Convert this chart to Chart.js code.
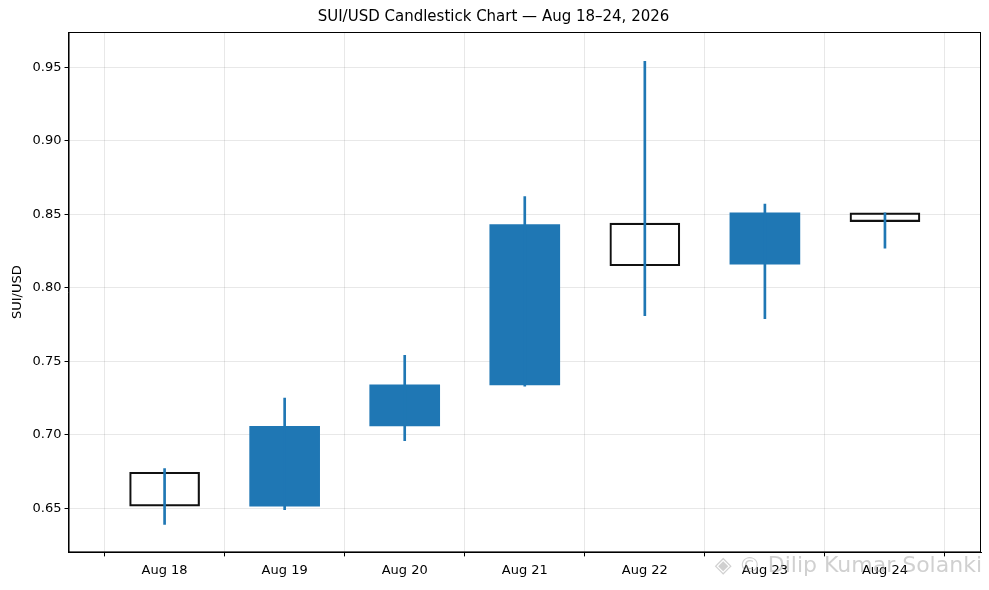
<!DOCTYPE html>
<html lang="en">
<head>
<meta charset="UTF-8">
<title>SUI/USD Candlestick</title>
<script src="https://cdn.jsdelivr.net/npm/chart.js"></script>
<style>
  body { margin: 0; background: #fff; }
  #wrap { width: 989px; height: 590px; }
</style>
</head>
<body>
<div id="wrap"><canvas id="chart"></canvas></div>
<script>
const days = ['Aug 18', 'Aug 19', 'Aug 20', 'Aug 21', 'Aug 22', 'Aug 23', 'Aug 24'];
const opens = [0.6745, 0.6515, 0.706, 0.734, 0.844, 0.816, 0.851];
const closes = [0.6515, 0.7057, 0.734, 0.843, 0.815, 0.851, 0.845];
const highs = [0.677, 0.725, 0.754, 0.862, 0.954, 0.857, 0.851];
const lows = [0.639, 0.649, 0.696, 0.733, 0.781, 0.779, 0.827];
const yTicks = [0.65, 0.70, 0.75, 0.80, 0.85, 0.90, 0.95];

const up = closes.map((c, i) => c >= opens[i]);
const blue = '#1f77b4';

const frame = {
  id: 'frame',
  afterDraw(chart) {
    const ctx = chart.ctx, a = chart.chartArea;
    ctx.save();
    ctx.strokeStyle = '#000';
    ctx.lineWidth = 1;
    ctx.strokeRect(a.left + 0.5, a.top + 0.5, a.right - a.left - 1, a.bottom - a.top - 1);
    ctx.font = '22px "DejaVu Sans"';
    ctx.fillStyle = 'rgba(150,150,150,0.45)';
    ctx.textAlign = 'right';
    ctx.textBaseline = 'middle';
    ctx.fillText('◈ © Dilip Kumar Solanki', 982, 566);
    ctx.restore();
  }
};

new Chart(document.getElementById('chart'), {
  type: 'bar',
  data: {
    datasets: [{
      label: 'Wick',
      data: days.map((d, i) => ({ x: i, y: [lows[i], highs[i]] })),
      backgroundColor: blue,
      barThickness: 2,
      grouped: false,
      order: 0
    }, {
      label: 'Body',
      data: days.map((d, i) => ({ x: i, y: [opens[i], closes[i]] })),
      backgroundColor: up.map(u => u ? blue : 'rgba(0,0,0,0)'),
      borderColor: up.map(u => u ? blue : '#111'),
      borderWidth: up.map(u => u ? 0 : 1.5),
      borderSkipped: false,
      barThickness: 70,
      grouped: false,
      order: 1
    }]
  },
  options: {
    responsive: true,
    maintainAspectRatio: false,
    animation: false,
    layout: { padding: { left: 6, right: 8, top: 2, bottom: 6 } },
    plugins: {
      legend: { display: false },
      tooltip: { enabled: false },
      title: {
        display: true,
        text: 'SUI/USD Candlestick Chart — Aug 18–24, 2026',
        color: '#000',
        font: { family: 'DejaVu Sans', size: 15, weight: 'normal' },
        padding: { top: 6, bottom: 6 }
      }
    },
    scales: {
      x: {
        type: 'linear',
        min: -0.8,
        max: 6.8,
        offset: false,
        grid: { color: 'rgba(0,0,0,0.09)', tickColor: '#000', tickLength: 4 },
        border: { color: '#000' },
        afterBuildTicks(axis) {
          axis.ticks = days.map((d, i) => ({ value: i }));
        },
        ticks: {
          color: '#000',
          font: { family: 'DejaVu Sans', size: 13 },
          padding: 6,
          callback: v => days[v]
        }
      },
      y: {
        min: 0.62,
        max: 0.974,
        title: { display: true, text: 'SUI/USD', color: '#000', font: { family: 'DejaVu Sans', size: 13 } },
        grid: { color: 'rgba(0,0,0,0.09)', tickColor: '#000', tickLength: 4 },
        border: { color: '#000' },
        afterBuildTicks(axis) {
          axis.ticks = yTicks.map(v => ({ value: v }));
        },
        ticks: {
          color: '#000',
          font: { family: 'DejaVu Sans', size: 13 },
          callback: v => v.toFixed(2)
        }
      }
    }
  },
  plugins: [frame]
});
</script>
</body>
</html>
